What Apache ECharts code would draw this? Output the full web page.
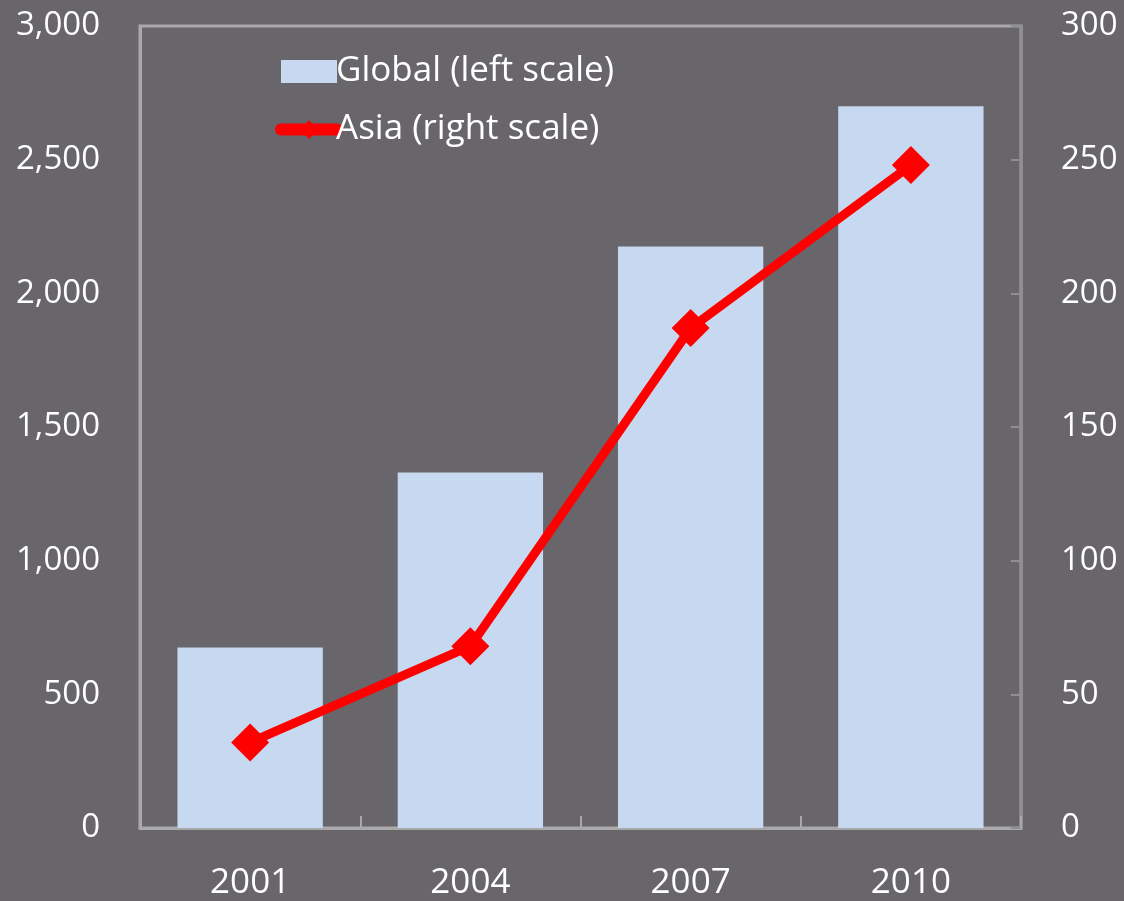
<!DOCTYPE html>
<html>
<head>
<meta charset="utf-8">
<script src="https://cdn.jsdelivr.net/npm/echarts@6/dist/echarts.min.js"></script>
<style>
  html, body { margin: 0; padding: 0; background: #68656b; }
  #chart { width: 1124px; height: 901px; }
</style>
</head>
<body>
<div id="chart"></div>
<script>
// Years on the category axis
const years = ['2001', '2004', '2007', '2010'];
// Global total (left scale)
const globalValues = [675, 1330, 2175, 2700];
// Asia (right scale)
const asiaValues = [32, 68, 187, 248];
// Axis ranges
const leftAxis = { min: 0, max: 3000, interval: 500 };
const rightAxis = { min: 0, max: 300, interval: 50 };

const fontFamily = '"Open Sans", "Noto Sans", sans-serif';
const textColor = '#ffffff';
const frameColor = '#a9a9a9';

const chart = echarts.init(document.getElementById('chart'), null, { renderer: 'canvas' });

chart.setOption({
  backgroundColor: '#68656b',
  animation: false,
  textStyle: { fontFamily: fontFamily },
  grid: {
    left: 140, right: 103, top: 26, bottom: 73,
    show: true, borderColor: frameColor, borderWidth: 3, backgroundColor: 'transparent'
  },
  legend: {
    orient: 'vertical',
    left: 270, top: 49,
    itemGap: 23,
    itemWidth: 56, itemHeight: 23,
    textStyle: { color: textColor, fontSize: 35, fontFamily: fontFamily, padding: [0, 0, 0, -6] },
    data: [
      { name: 'Global (left scale)', icon: 'rect' },
      { name: 'Asia (right scale)', lineStyle: { width: 12, color: '#ff0000', cap: 'round' } }
    ]
  },
  xAxis: {
    type: 'category',
    data: years,
    axisLine: { lineStyle: { color: frameColor, width: 3 } },
    axisTick: { show: true, inside: true, length: 12, lineStyle: { color: frameColor, width: 2 } },
    axisLabel: { color: textColor, fontSize: 35, margin: 38 }
  },
  yAxis: [
    {
      type: 'value',
      min: leftAxis.min, max: leftAxis.max, interval: leftAxis.interval,
      axisLine: { show: true, lineStyle: { color: frameColor, width: 3 } },
      axisTick: { show: false },
      splitLine: { show: false },
      axisLabel: {
        color: textColor, fontSize: 33, margin: 40,
        formatter: v => v.toLocaleString('en-US')
      }
    },
    {
      type: 'value',
      position: 'right',
      min: rightAxis.min, max: rightAxis.max, interval: rightAxis.interval,
      axisLine: { show: true, lineStyle: { color: '#8f8f8f', width: 3 } },
      axisTick: { show: true, inside: true, length: 10, lineStyle: { color: '#8f8f8f', width: 2 } },
      splitLine: { show: false },
      axisLabel: { color: textColor, fontSize: 33, margin: 40 }
    }
  ],
  series: [
    {
      name: 'Global (left scale)',
      type: 'bar',
      yAxisIndex: 0,
      data: globalValues,
      barWidth: '66%',
      itemStyle: { color: '#c6d9f0' }
    },
    {
      name: 'Asia (right scale)',
      type: 'line',
      yAxisIndex: 1,
      data: asiaValues,
      symbol: 'diamond',
      symbolSize: 38,
      lineStyle: { color: '#ff0000', width: 9 },
      itemStyle: { color: '#ff0000' }
    }
  ]
});
</script>
</body>
</html>
